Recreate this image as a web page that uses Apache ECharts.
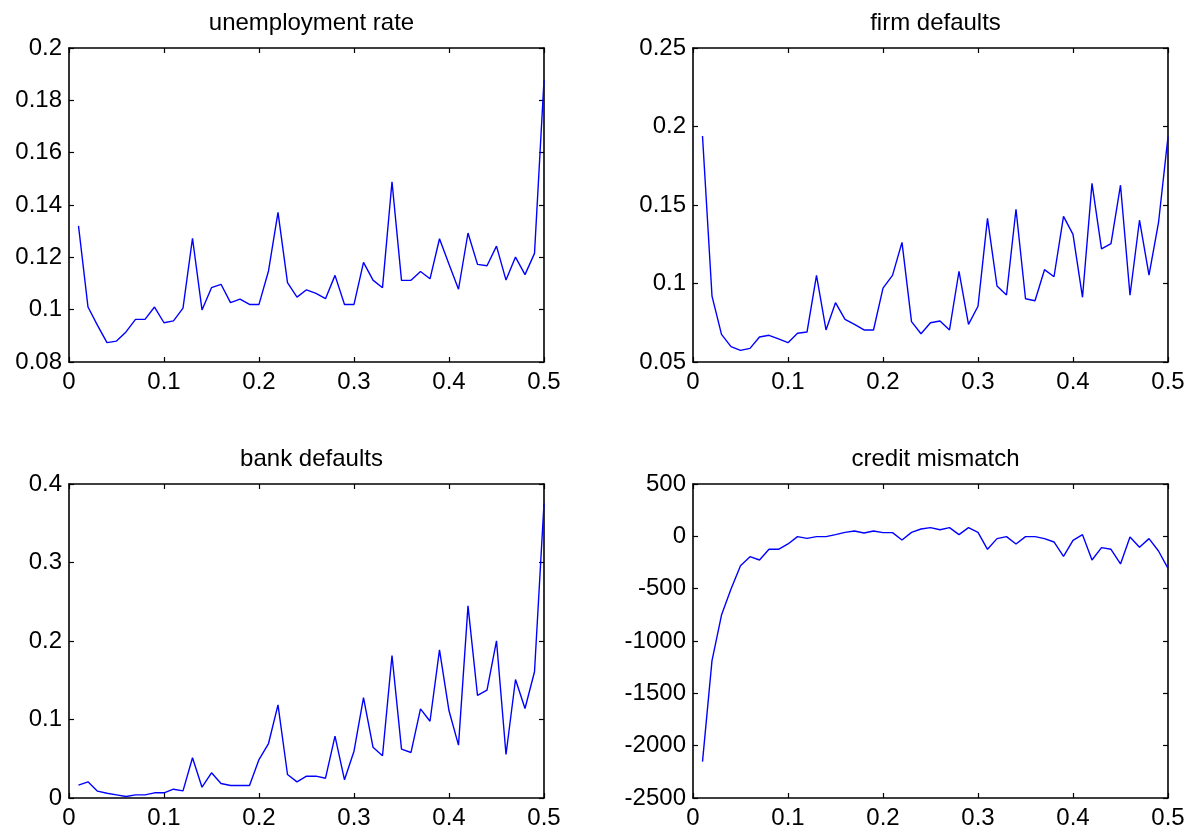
<!DOCTYPE html>
<html>
<head>
<meta charset="utf-8">
<script src="https://cdn.jsdelivr.net/npm/echarts@6/dist/echarts.min.js"></script>
<style>
html,body{margin:0;padding:0;background:#fff;}
#chart{width:1195px;height:837px;}
</style>
</head>
<body>
<div id="chart"></div>
<script>
const xs = [0.01,0.02,0.03,0.04,0.05,0.06,0.07,0.08,0.09,0.10,
            0.11,0.12,0.13,0.14,0.15,0.16,0.17,0.18,0.19,0.20,
            0.21,0.22,0.23,0.24,0.25,0.26,0.27,0.28,0.29,0.30,
            0.31,0.32,0.33,0.34,0.35,0.36,0.37,0.38,0.39,0.40,
            0.41,0.42,0.43,0.44,0.45,0.46,0.47,0.48,0.49,0.50];

const unemployment = [0.132,0.101,0.094,0.0874,0.088,0.0915,0.0963,0.0963,0.101,0.095,
                      0.0957,0.1006,0.1273,0.0999,0.1084,0.1097,0.1027,0.104,0.102,0.102,
                      0.1148,0.1372,0.1103,0.1048,0.1076,0.1062,0.1042,0.1131,0.102,0.102,
                      0.1181,0.1113,0.1084,0.1489,0.1112,0.1112,0.1146,0.1118,0.1271,0.1174,
                      0.1078,0.1293,0.1173,0.1168,0.1243,0.1113,0.1201,0.1134,0.1215,0.1877];

const firmDefaults = [0.194,0.092,0.0676,0.0598,0.0574,0.0587,0.0659,0.067,0.0647,0.0623,
                      0.0683,0.0691,0.1052,0.0704,0.0878,0.0772,0.074,0.0704,0.0704,0.0971,
                      0.1052,0.1262,0.0757,0.068,0.075,0.0761,0.0704,0.1078,0.074,0.0855,
                      0.1415,0.0984,0.0927,0.1473,0.0903,0.089,0.1088,0.1043,0.1428,0.1313,
                      0.0912,0.1638,0.122,0.1254,0.1626,0.0925,0.1403,0.1054,0.1387,0.1935];

const bankDefaults = [0.0163,0.0206,0.0087,0.0061,0.004,0.0019,0.004,0.004,0.0066,0.0066,
                      0.0112,0.0091,0.0512,0.0138,0.0321,0.0185,0.0159,0.0159,0.0159,0.049,
                      0.0694,0.1187,0.0299,0.0206,0.0278,0.0278,0.0252,0.0787,0.0232,0.0596,
                      0.128,0.0647,0.0538,0.1815,0.0622,0.058,0.1136,0.0978,0.1888,0.1111,
                      0.0673,0.2448,0.1306,0.1374,0.2003,0.0554,0.151,0.114,0.1608,0.3752];

const creditMismatch = [-2153,-1188,-752,-503,-280,-194,-226,-124,-124,-73,
                        -3,-19,-3,-3,16,38,51,32,51,35,
                        35,-35,38,70,83,63,83,16,83,38,
                        -124,-22,-3,-73,-3,-3,-22,-54,-191,-38,
                        16,-226,-108,-124,-264,-6,-105,-22,-140,-306];

const titles = ['unemployment rate','firm defaults','bank defaults','credit mismatch'];
const seriesList = [unemployment, firmDefaults, bankDefaults, creditMismatch];
const xTicks = {min:0, max:0.5, interval:0.1};
const yTicks = [
  {min:0.08, max:0.2, interval:0.02},
  {min:0.05, max:0.25, interval:0.05},
  {min:0, max:0.4, interval:0.1},
  {min:-2500, max:500, interval:500}
];

const grids = [
  {left:69, top:48, width:475, height:314},
  {left:693, top:48, width:475, height:314},
  {left:69, top:484, width:475, height:314},
  {left:693, top:484, width:475, height:314}
];

const FONT = 'Liberation Sans, Arial, Helvetica, sans-serif';
const FS = 24;
function line(){ return {show:true, onZero:false, lineStyle:{color:'#000', width:1.6}}; }
function tick(){ return {show:true, inside:true, length:5, lineStyle:{color:'#000', width:1.2}}; }
function fmt(v){ return String(Math.round(v * 1000) / 1000); }

const xAxis = [], yAxis = [], series = [], title = [];
grids.forEach((g, k) => {
  title.push({
    text: titles[k],
    left: g.left + g.width / 2,
    top: g.top - 42,
    textAlign: 'center',
    textStyle: {fontFamily: FONT, fontSize: FS, fontWeight: 'normal', color: '#000'}
  });
  xAxis.push({
    type:'value', gridIndex:k, position:'bottom', min:xTicks.min, max:xTicks.max, interval:xTicks.interval,
    axisLine:line(), axisTick:tick(), splitLine:{show:false},
    axisLabel:{fontFamily:FONT, fontSize:FS, color:'#000', margin:8, formatter:fmt}
  });
  xAxis.push({
    type:'value', gridIndex:k, position:'top', min:xTicks.min, max:xTicks.max, interval:xTicks.interval,
    axisLine:line(), axisTick:tick(), splitLine:{show:false}, axisLabel:{show:false}
  });
  const yt = yTicks[k];
  yAxis.push({
    type:'value', gridIndex:k, position:'left', min:yt.min, max:yt.max, interval:yt.interval,
    axisLine:line(), axisTick:tick(), splitLine:{show:false},
    axisLabel:{fontFamily:FONT, fontSize:FS, color:'#000', margin:7, formatter:fmt}
  });
  yAxis.push({
    type:'value', gridIndex:k, position:'right', min:yt.min, max:yt.max, interval:yt.interval,
    axisLine:line(), axisTick:tick(), splitLine:{show:false}, axisLabel:{show:false}
  });
  series.push({
    type:'line', xAxisIndex:2*k, yAxisIndex:2*k,
    data: xs.map((x, i) => [x, seriesList[k][i]]),
    showSymbol:false, symbol:'none',
    lineStyle:{color:'#0000ff', width:1.4},
    animation:false
  });
});

const chart = echarts.init(document.getElementById('chart'));
chart.setOption({
  backgroundColor:'#fff',
  animation:false,
  title, grid:grids, xAxis, yAxis, series
});
</script>
</body>
</html>
